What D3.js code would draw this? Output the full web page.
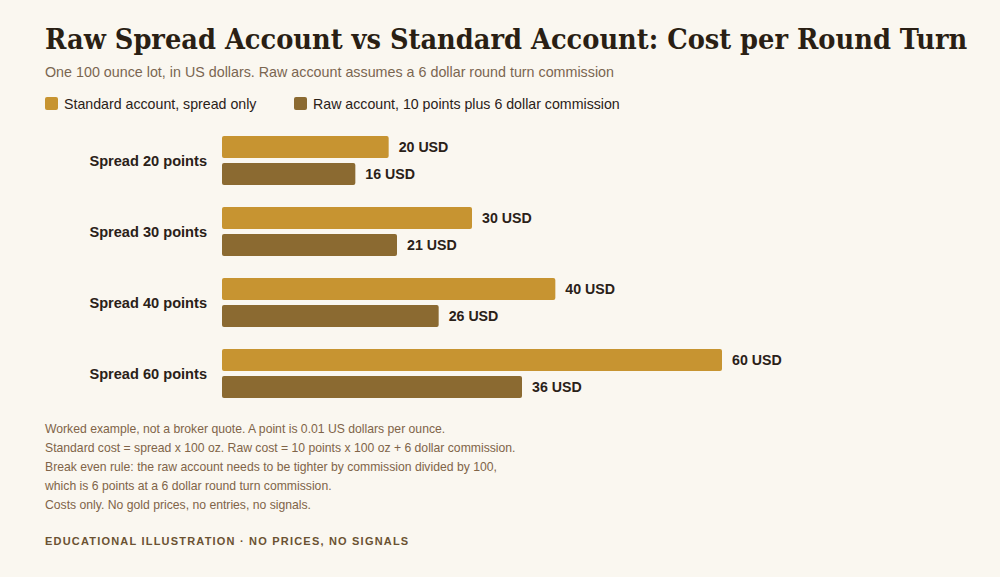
<!DOCTYPE html>
<html>
<head>
<meta charset="utf-8">
<script src="https://cdn.jsdelivr.net/npm/d3@7"></script>
<style>
  html, body { margin: 0; padding: 0; background: #faf7f0; }
  svg { display: block; font-family: "Liberation Sans", Arial, sans-serif; }
  .title { font-family: "DejaVu Serif Condensed", "DejaVu Serif", serif; font-stretch: condensed; font-weight: bold; fill: #2a1f14; }
  .subtitle { fill: #7a6650; }
  .legend-label { fill: #2a2118; }
  .cat-label { font-weight: bold; fill: #2a2118; }
  .value-label { font-weight: bold; fill: #2a2118; }
  .note { fill: #806448; }
  .footer { font-weight: bold; fill: #6b5232; letter-spacing: 1.2px; }
</style>
</head>
<body>
<div id="chart"></div>
<script>
'use strict';

// data
const categories = ['Spread 20 points', 'Spread 30 points', 'Spread 40 points', 'Spread 60 points'];
const seriesNames = ['Standard account, spread only', 'Raw account, 10 points plus 6 dollar commission'];
const standardCost = [20, 30, 40, 60];
const rawCost = [16, 21, 26, 36];
const notes = [
  'Worked example, not a broker quote. A point is 0.01 US dollars per ounce.',
  'Standard cost = spread x 100 oz. Raw cost = 10 points x 100 oz + 6 dollar commission.',
  'Break even rule: the raw account needs to be tighter by commission divided by 100,',
  'which is 6 points at a 6 dollar round turn commission.',
  'Costs only. No gold prices, no entries, no signals.'
];

let w = 1000, h = 577;
const colors = ['#c79431', '#8b6a31'];

let svg = d3.select('#chart').append('svg')
  .attr('width', w).attr('height', h);

svg.append('rect').attr('width', w).attr('height', h).attr('fill', '#faf7f0');

svg.append('text').classed('title', true)
  .attr('x', 45).attr('y', 49).attr('font-size', 28.6)
  .text('Raw Spread Account vs Standard Account: Cost per Round Turn');

svg.append('text').classed('subtitle', true)
  .attr('x', 45).attr('y', 77).attr('font-size', 14.3)
  .text('One 100 ounce lot, in US dollars. Raw account assumes a 6 dollar round turn commission');

// legend
let legendX = [45, 294];
seriesNames.forEach((s, i) => {
  let g = svg.append('g').attr('transform', `translate(${legendX[i]},97)`);
  g.append('rect').attr('width', 13).attr('height', 13).attr('rx', 2).attr('fill', colors[i]);
  g.append('text').classed('legend-label', true)
    .attr('x', 19).attr('y', 12).attr('font-size', 14.2)
    .text(s);
});

// scales
let x = d3.scaleLinear().domain([0, 60]).range([222, 722]);
let y = d3.scaleBand().domain(categories).range([136, 398]).paddingInner(0.31);
let ySub = d3.scaleBand().domain([0, 1]).range([0, y.bandwidth()]).paddingInner(0.185);

let rows = categories.map((c, i) => ({cat: c, values: [standardCost[i], rawCost[i]]}));

let groups = svg.selectAll('.group').data(rows).enter().append('g')
  .classed('group', true)
  .attr('transform', (d) => `translate(0,${y(d.cat)})`);

groups.append('text').classed('cat-label', true)
  .attr('x', 207).attr('y', y.bandwidth() / 2)
  .attr('dy', '0.35em').attr('text-anchor', 'end').attr('font-size', 14.6)
  .text((d) => d.cat);

groups.selectAll('rect.bar').data((d) => d.values).enter().append('rect')
  .classed('bar', true)
  .attr('x', x(0))
  .attr('y', (d, i) => ySub(i))
  .attr('width', (d) => x(d) - x(0))
  .attr('height', ySub.bandwidth())
  .attr('rx', 2)
  .attr('fill', (d, i) => colors[i]);

groups.selectAll('text.value-label').data((d) => d.values).enter().append('text')
  .classed('value-label', true)
  .attr('x', (d) => x(d) + 10)
  .attr('y', (d, i) => ySub(i) + ySub.bandwidth() / 2)
  .attr('dy', '0.35em').attr('font-size', 14.2)
  .text((d) => `${d} USD`);

// notes
svg.selectAll('.note').data(notes).enter().append('text')
  .classed('note', true)
  .attr('x', 45).attr('y', (d, i) => 433 + i * 19)
  .attr('font-size', 12.2)
  .text((d) => d);

svg.append('text').classed('footer', true)
  .attr('x', 45).attr('y', 545).attr('font-size', 11)
  .text('EDUCATIONAL ILLUSTRATION \u00b7 NO PRICES, NO SIGNALS');
</script>
</body>
</html>
